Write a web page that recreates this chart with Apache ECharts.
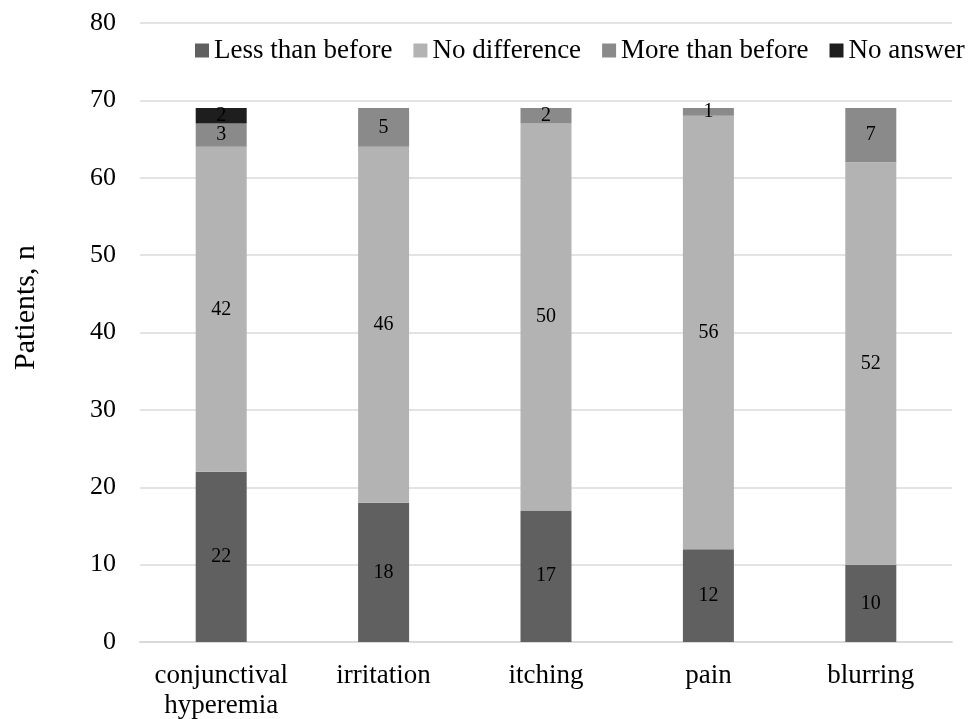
<!DOCTYPE html>
<html>
<head>
<meta charset="utf-8">
<script src="https://cdn.jsdelivr.net/npm/echarts@6/dist/echarts.min.js"></script>
<style>
  html, body { margin: 0; padding: 0; background: #fff; }
  #chart { width: 972px; height: 719px; }
</style>
</head>
<body>
<div id="chart"></div>
<script>
// Symptom categories along the x axis
const categories = ['conjunctival\nhyperemia', 'irritation', 'itching', 'pain', 'blurring'];

// Patient counts per response
const lessThanBefore = [22, 18, 17, 12, 10];
const noDifference   = [42, 46, 50, 56, 52];
const moreThanBefore = [3, 5, 2, 1, 7];
const noAnswer       = [2, 0, 0, 0, 0];

const seriesNames  = ['Less than before', 'No difference', 'More than before', 'No answer'];
const seriesData   = [lessThanBefore, noDifference, moreThanBefore, noAnswer];
const seriesColors = ['#606060', '#b3b3b3', '#8a8a8a', '#1e1e1e'];

const FONT = '"Liberation Serif", "Times New Roman", serif';

const chart = echarts.init(document.getElementById('chart'), null, { renderer: 'canvas' });

const series = seriesNames.map((name, i) => ({
  name,
  type: 'bar',
  stack: 'total',
  barWidth: 51,
  data: seriesData[i].map(v => (v === 0 ? null : v)),
  itemStyle: { color: seriesColors[i] },
  label: {
    show: true,
    position: 'inside',
    color: '#000',
    fontFamily: FONT,
    fontSize: 20
  }
}));

chart.setOption({
  animation: false,
  backgroundColor: '#fff',
  textStyle: { fontFamily: FONT },
  grid: { left: 140, right: 20, top: 23, bottom: 77, outerBoundsMode: 'none' },
  legend: {
    left: 195,
    top: 37,
    width: 777,
    padding: 0,
    icon: 'rect',
    itemWidth: 14,
    itemHeight: 14,
    itemGap: 21,
    textStyle: { fontFamily: FONT, fontSize: 27, color: '#000' },
    data: seriesNames
  },
  xAxis: {
    type: 'category',
    data: categories,
    axisLine: { lineStyle: { color: '#d9d9d9', width: 2 } },
    axisTick: { show: false },
    axisLabel: {
      interval: 0,
      color: '#000',
      fontFamily: FONT,
      fontSize: 27,
      lineHeight: 30,
      margin: 19
    }
  },
  yAxis: {
    type: 'value',
    min: 0,
    max: 80,
    interval: 10,
    axisLine: { show: false },
    axisTick: { show: false },
    splitLine: { lineStyle: { color: '#e3e3e3', width: 2 } },
    axisLabel: { color: '#000', fontFamily: FONT, fontSize: 26, margin: 24 }
  },
  graphic: [{
    type: 'text',
    left: 11,
    top: 245,
    style: {
      text: 'Patients, n',
      fontFamily: FONT,
      fontSize: 30,
      fill: '#000'
    },
    rotation: Math.PI / 2,
    originX: 0,
    originY: 0
  }],
  series
});
</script>
</body>
</html>
